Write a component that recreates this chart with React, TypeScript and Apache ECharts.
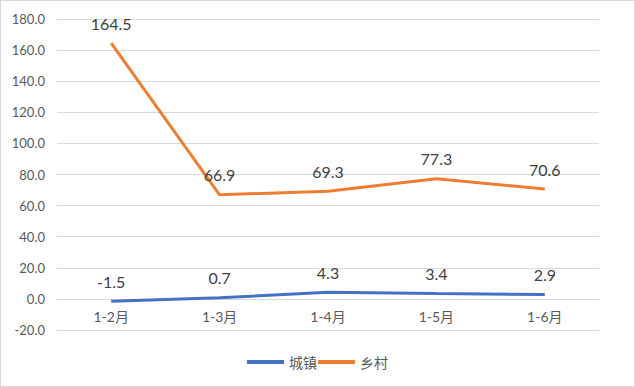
import React, { useEffect, useRef } from "react";
import * as echarts from "echarts";

const categories = ["1-2月", "1-3月", "1-4月", "1-5月", "1-6月"];
const urbanValues = [-1.5, 0.7, 4.3, 3.4, 2.9];
const ruralValues = [164.5, 66.9, 69.3, 77.3, 70.6];
const seriesNames = ["城镇", "乡村"];

export default function App() {
  const ref = useRef<HTMLDivElement>(null);
  useEffect(() => {
    document.body.style.margin = "0";
    const chart = echarts.init(ref.current!, null, { renderer: "svg" });
    const font = "Lato, 'Noto Sans CJK SC', 'Noto Sans', sans-serif";
    const mkSeries = (name: string, data: number[], color: string) => ({
      name,
      type: "line",
      data,
      symbol: "circle",
      symbolSize: 0,
      lineStyle: { width: 3, color },
      itemStyle: { color },
      label: {
        show: true,
        position: "top",
        distance: 12,
        color: "#404040",
        fontSize: 16,
        fontFamily: font,
        formatter: (p: any) => Number(p.value).toFixed(1),
      },
    });
    chart.setOption({
      animation: false,
      grid: { left: 56, right: 35, top: 18, bottom: 56 },
      legend: {
        bottom: 12,
        left: "center",
        itemWidth: 37,
        itemHeight: 4,
        itemGap: 1,
        icon: "rect",
        textStyle: { color: "#595959", fontSize: 14, fontFamily: font },
        data: seriesNames,
      },
      xAxis: {
        type: "category",
        data: categories,
        boundaryGap: true,
        offset: -31,
        axisLine: { onZero: false, lineStyle: { color: "#d9d9d9", width: 1 } },
        axisTick: { show: false },
        axisLabel: { color: "#595959", fontSize: 14, fontFamily: font, margin: 10 },
      },
      yAxis: {
        type: "value",
        min: -20,
        max: 180,
        interval: 20,
        axisLine: { show: false },
        axisTick: { show: false },
        splitLine: { lineStyle: { color: "#d9d9d9", width: 1 } },
        axisLabel: {
          color: "#595959",
          fontSize: 13,
          fontFamily: font,
          margin: 12,
          formatter: (v: number) => v.toFixed(1),
        },
      },
      series: [
        mkSeries(seriesNames[0], urbanValues, "#4472C4"),
        mkSeries(seriesNames[1], ruralValues, "#ED7D31"),
      ],
    });
    return () => chart.dispose();
  }, []);
  return (
    <div
      style={{
        position: "fixed",
        left: 0,
        top: 0,
        width: 635,
        height: 387,
        boxSizing: "border-box",
        border: "1px solid #d9d9d9",
        background: "#fff",
      }}
    >
      <div ref={ref} style={{ width: 633, height: 385 }} />
    </div>
  );
}
